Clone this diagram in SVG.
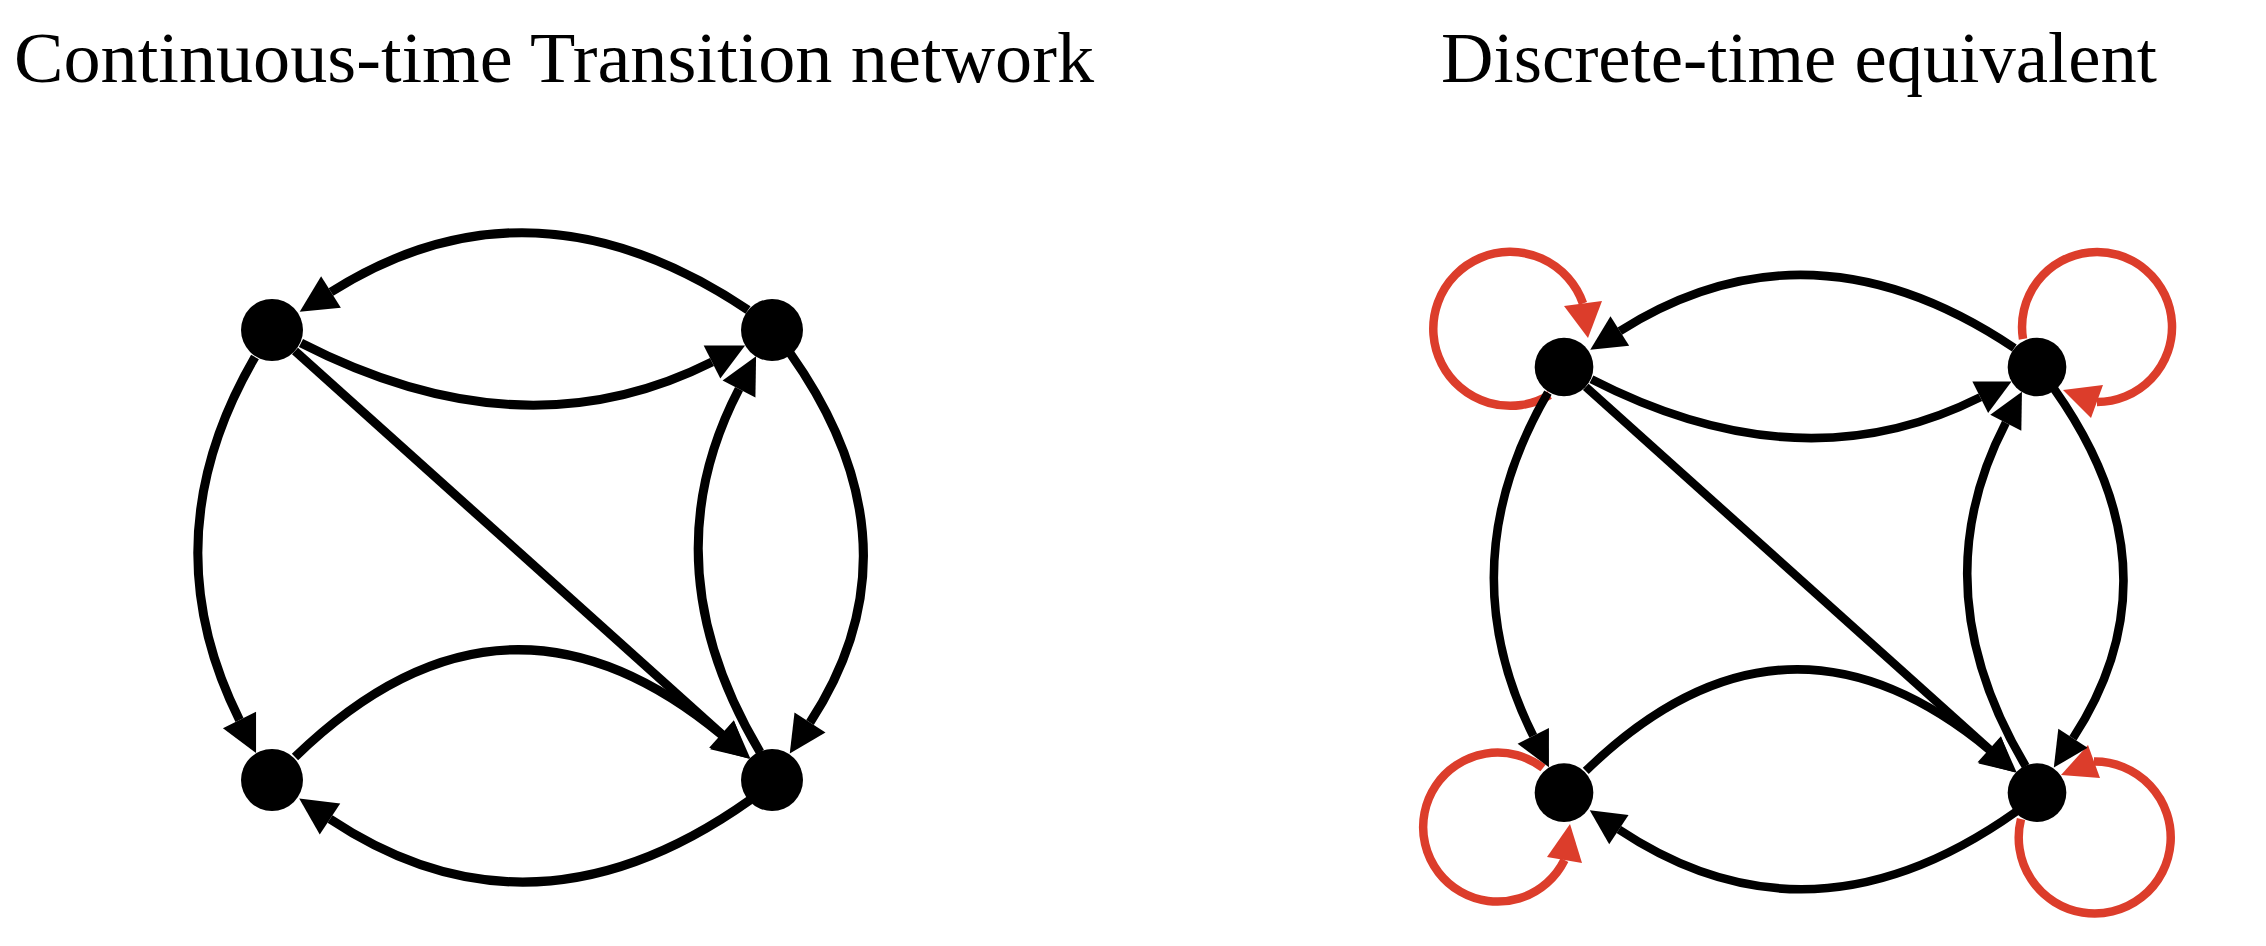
<svg xmlns="http://www.w3.org/2000/svg" width="2266" height="946" viewBox="0 0 2266 946">
<style>
.title{font-family:"Liberation Serif","DejaVu Serif",serif;font-size:72px;fill:#000}
.edge{fill:none;stroke:#000;stroke-width:9;marker-end:url(#ah)}
.loop{fill:none;stroke:#dc3d2b;stroke-width:8.5}
.loophead{fill:#dc3d2b}
.node{fill:#000}
</style>
<defs>
<marker id="ah" markerUnits="userSpaceOnUse" markerWidth="40" markerHeight="40" viewBox="0 -20 40 40" refX="0" refY="0" orient="auto" overflow="visible">
<path d="M0,-18.5 L37,0 L0,18.5 Z" fill="#000"/>
</marker>
</defs>
<rect width="2266" height="946" fill="#fff"/>
<text class="title" x="14" y="82" textLength="1080" lengthAdjust="spacingAndGlyphs">Continuous-time Transition network</text>
<text class="title" x="1441" y="82" textLength="716" lengthAdjust="spacingAndGlyphs">Discrete-time equivalent</text>

<g id="left-graph">
<g id="connectors-left">
<path class="edge" d="M748,310 Q532,165 331,292"/>
<path class="edge" d="M301,343 Q523,457 712,362"/>
<path class="edge" d="M760,752 Q648,564 739,389"/>
<path class="edge" d="M790,353 Q926,545 810,722.5"/>
<path class="edge" d="M255,357 Q149,539 239.5,720"/>
<path class="edge" d="M295,351 L721.5,734"/>
<path class="edge" d="M295,757 Q504,554 722,735"/>
<path class="edge" d="M750,800 Q533,954 330,819"/>
</g>
<g id="node-L1"><circle class="node" cx="272" cy="330" r="31"/></g>
<g id="node-L2"><circle class="node" cx="772" cy="330" r="31"/></g>
<g id="node-L3"><circle class="node" cx="272" cy="780" r="31"/></g>
<g id="node-L4"><circle class="node" cx="772" cy="780" r="31"/></g>
</g>

<g id="self-loops">
<path class="loop" d="M1549.7,395 A77,77 0 1 1 1583,303.5"/>
<polygon class="loophead" points="1588,338 1564,306 1602,301"/>
<path class="loop" d="M2023,339 A75,75 0 1 1 2097,402"/>
<polygon class="loophead" points="2063,390 2103,385 2091,418"/>
<path class="loop" d="M1543,768 A74.5,74.5 0 1 0 1564.5,860"/>
<polygon class="loophead" points="1570,824 1547,857 1582,863"/>
<path class="loop" d="M2021,819 A76,76 0 1 0 2094,761.5"/>
<polygon class="loophead" points="2061,775 2088,745 2100,778"/>
</g>

<g id="right-graph" transform="matrix(0.946 0 0 0.946 1306.7 54.8)">
<g id="connectors-right">
<path class="edge" d="M748,310 Q532,165 331,292"/>
<path class="edge" d="M301,343 Q523,457 712,362"/>
<path class="edge" d="M760,752 Q648,564 739,389"/>
<path class="edge" d="M790,353 Q926,545 810,722.5"/>
<path class="edge" d="M255,357 Q149,539 239.5,720"/>
<path class="edge" d="M295,351 L721.5,734"/>
<path class="edge" d="M295,757 Q504,554 722,735"/>
<path class="edge" d="M750,800 Q533,954 330,819"/>
</g>
<g id="node-R1"><circle class="node" cx="272" cy="330" r="31"/></g>
<g id="node-R2"><circle class="node" cx="772" cy="330" r="31"/></g>
<g id="node-R3"><circle class="node" cx="272" cy="780" r="31"/></g>
<g id="node-R4"><circle class="node" cx="772" cy="780" r="31"/></g>
</g>
</svg>
